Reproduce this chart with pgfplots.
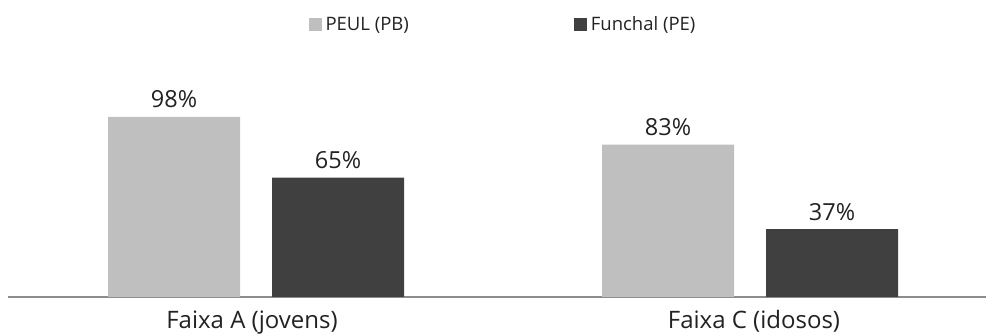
\documentclass[border=0pt]{standalone}
\usepackage{pgfplots}
\pgfplotsset{compat=1.18}
\usepackage{fontspec}
\setmainfont{Open Sans}
\definecolor{lgray}{HTML}{BFBFBF}
\definecolor{dgray}{HTML}{404040}
\definecolor{txt}{HTML}{222222}
\begin{document}
\begin{tikzpicture}[x=1pt,y=1pt]
\path[use as bounding box] (0,0) rectangle (986,334);
\begin{axis}[
  at={(8pt,37pt)}, anchor=origin,
  scale only axis, width=978pt, height=183.7pt,
  xmin=8, xmax=986, ymin=0, ymax=100,
  axis y line=none,
  axis x line*=bottom,
  x axis line style={draw=gray!90, line width=1.6pt, -},
  xtick={252,754}, xticklabels={Faixa A (jovens), Faixa C (idosos)},
  major tick length=0pt,
  /pgf/number format/assume math mode=true,
  ticklabel style={font=\fontsize{24}{28}\selectfont, text=txt},
  xticklabel style={anchor=base, yshift=-32pt},
  ybar, bar width=132pt,
  clip=false,
  nodes near coords={\pgfmathprintnumber{\pgfplotspointmeta}\%},
  every node near coord/.append style={font=\fontsize{23.5}{28}\selectfont, text=txt, anchor=base, yshift=9pt},
  legend columns=2,
  legend style={draw=none, fill=none, at={(0.5,1)}, anchor=center, yshift=89pt, xshift=6pt,
    font=\fontsize{18.5}{22}\selectfont, text=txt,
    /tikz/every odd column/.append style={column sep=2pt},
    /tikz/every even column/.append style={column sep=163pt}},
  legend image code/.code={\fill[#1] (0pt,-6.5pt) rectangle (13pt,6.5pt);},
]
\addplot[fill=lgray, draw=none, bar shift=-82pt] coordinates {(256,98) (750,83)};
\addlegendentry{PEUL (PB)}
\addplot[fill=dgray, draw=none, bar shift=82pt] coordinates {(256,65) (750,37)};
\addlegendentry{Funchal (PE)}
\end{axis}
\end{tikzpicture}
\end{document}
